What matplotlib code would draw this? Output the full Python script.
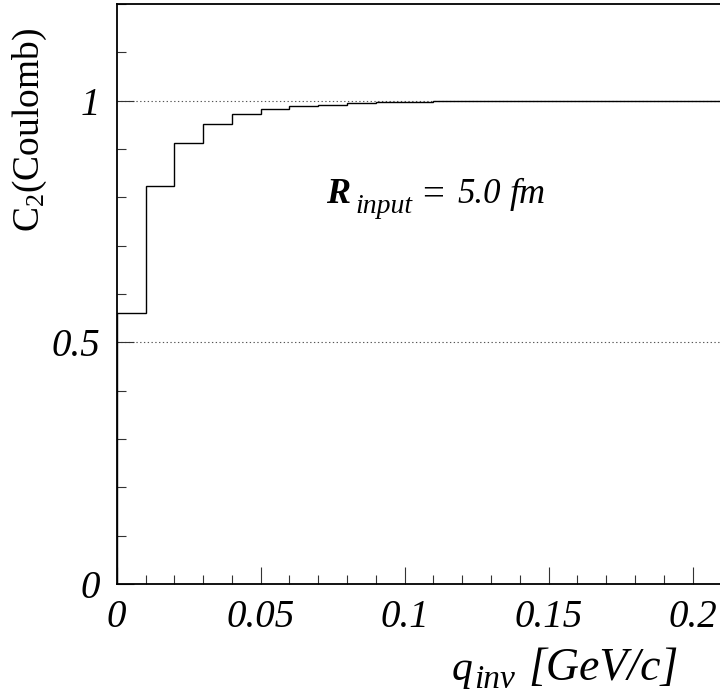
import numpy as np
import matplotlib
matplotlib.use("Agg")
import matplotlib.pyplot as plt
from matplotlib.ticker import MultipleLocator, FixedLocator

# Coulomb correlation function, 0.01 GeV/c bins
bin_edges = np.round(np.arange(0.0, 0.2101, 0.01), 3)
c2_values = [0.560, 0.824, 0.913, 0.952, 0.972, 0.982, 0.989, 0.992, 0.995, 0.997,
             0.998, 0.999, 0.999, 1.000, 1.000, 1.000, 1.000, 1.000, 1.000, 1.000, 1.000]
ref_levels = [1.0, 0.5]
x_ticks = [0.0, 0.05, 0.1, 0.15, 0.2]
x_tick_labels = ["0", "0.05", "0.1", "0.15", "0.2"]
y_ticks = [0.0, 0.5, 1.0]
y_tick_labels = ["0", "0.5", "1"]

plt.rcParams["font.family"] = ["Liberation Serif", "DejaVu Serif"]
plt.rcParams["mathtext.fontset"] = "custom"
plt.rcParams["mathtext.rm"] = "Liberation Serif"
plt.rcParams["mathtext.it"] = "Liberation Serif:italic"
plt.rcParams["mathtext.bf"] = "Liberation Serif:bold:italic"

W, H = 720, 694
fig = plt.figure(figsize=(W / 100, H / 100), dpi=100)
ax = fig.add_axes([116.7 / W, (H - 584) / H, 604.8 / W, 580 / H])


def px(x, y):
    """Pixel position (from top-left) to figure fraction."""
    return x / W, 1 - y / H


ax.set_xlim(0, 0.21)
ax.set_ylim(0, 1.2)

for lvl in ref_levels:
    ax.axhline(lvl, color="#555555", lw=0.8, ls=(0, (1.2, 2.2)), zorder=1)

ax.stairs(c2_values, bin_edges, color="black", lw=1.0, zorder=3)

for s in ["left", "bottom", "top", "right"]:
    ax.spines[s].set_linewidth(1.3)

ax.xaxis.set_major_locator(FixedLocator(x_ticks))
ax.xaxis.set_minor_locator(MultipleLocator(0.01))
ax.yaxis.set_major_locator(FixedLocator(y_ticks))
ax.yaxis.set_minor_locator(MultipleLocator(0.1))
ax.set_xticklabels(x_tick_labels)
ax.set_yticklabels(y_tick_labels)
ax.tick_params(which="both", direction="in", top=False, right=False, width=0.8, colors="#333333")
ax.tick_params(which="major", length=12.5)
ax.tick_params(which="minor", length=6.5)
ax.tick_params(axis="x", which="major", pad=11, labelsize=28, labelcolor="black")
ax.tick_params(axis="y", which="major", pad=12, labelsize=28, labelcolor="black")
for lab in ax.get_xticklabels() + ax.get_yticklabels():
    lab.set_fontstyle("italic")
ax.get_yticklabels()[0].set_y(-0.03)

# R_input annotation, built from pieces
fig.text(*px(326, 203), "R", fontsize=26, fontweight="bold", fontstyle="italic",
         ha="left", va="baseline")
fig.text(*px(355, 213), "input", fontsize=20, fontstyle="italic",
         ha="left", va="baseline")
fig.text(*px(422, 205), "=", fontsize=28, ha="left", va="baseline")
fig.text(*px(457, 203), "5.0", fontsize=25, fontstyle="italic", ha="left", va="baseline")
fig.text(*px(510, 203), "fm", fontsize=26, fontstyle="italic", ha="left", va="baseline")

# axis titles
fig.text(*px(452, 680), "q", fontsize=30, fontstyle="italic", ha="left", va="baseline")
fig.text(*px(474, 688), "inv", fontsize=24, fontstyle="italic", ha="left", va="baseline")
fig.text(*px(679, 680), "[GeV/c]", fontsize=33, fontstyle="italic", ha="right", va="baseline")
fig.text(*px(30, 28), r"$\mathrm{C}_{2}$(Coulomb)", fontsize=27, rotation=90,
         ha="center", va="top")

fig.savefig("out.png", dpi=100)
